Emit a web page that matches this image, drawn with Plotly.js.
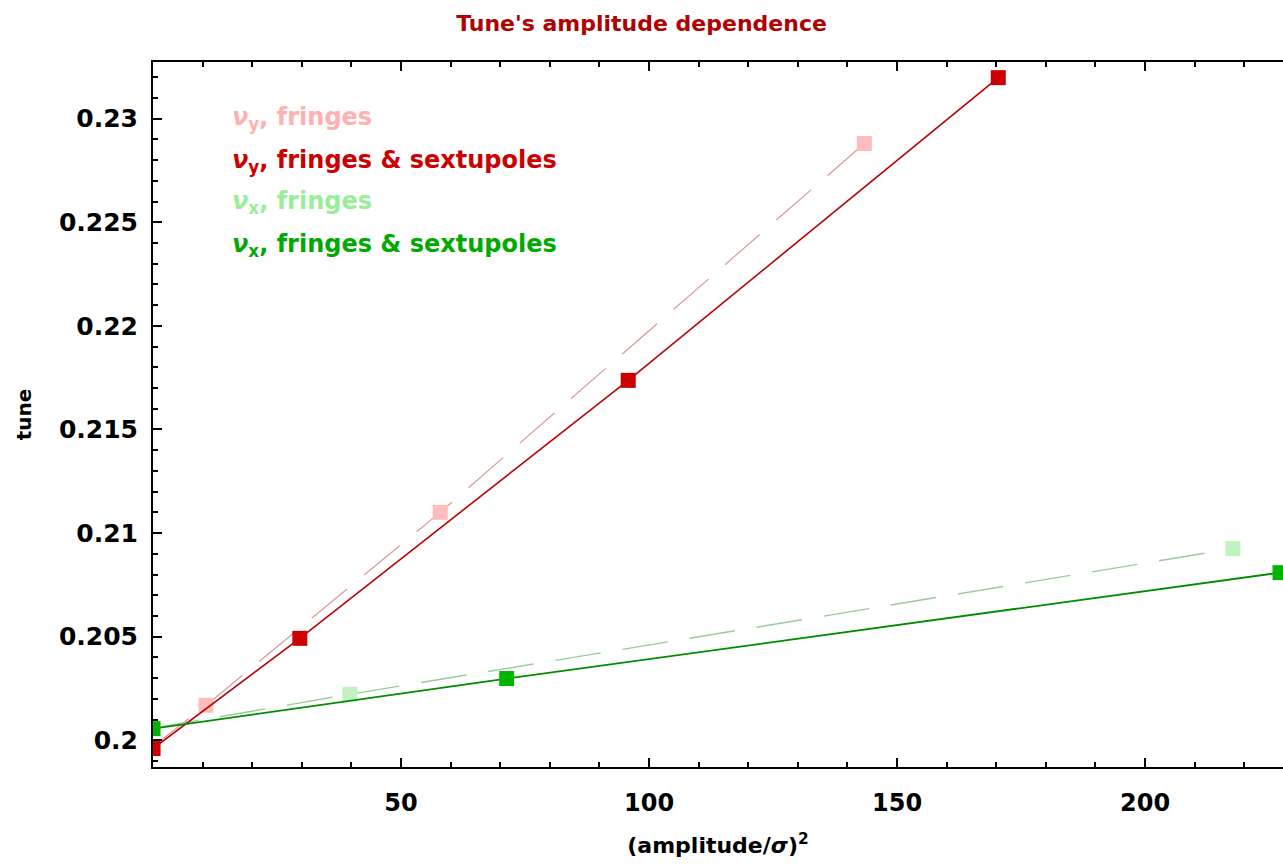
<!DOCTYPE html>
<html>
<head>
<meta charset="utf-8">
<script src="https://cdn.plot.ly/plotly-3.0.1.min.js"></script>
<style>html,body{margin:0;padding:0;background:#fff;}#chart{width:1283px;height:864px;}</style>
</head>
<body>
<div id="chart"></div>
<script>
// ν_y, fringes (light red, dashed)
const nyFringesX = [0, 10.7, 57.9, 143.4];
const nyFringesY = [0.1997, 0.20169, 0.2110, 0.2288];
// ν_y, fringes & sextupoles (red, solid)
const nySextX = [0, 29.6, 95.8, 170.4];
const nySextY = [0.1996, 0.20492, 0.21737, 0.23198];
// ν_x, fringes (light green, dashed)
const nxFringesX = [0, 39.7, 217.7];
const nxFringesY = [0.20058, 0.20222, 0.20925];
// ν_x, fringes & sextupoles (green, solid)
const nxSextX = [0, 71.3, 227.2];
const nxSextY = [0.20056, 0.20298, 0.20809];

const legendLabels = [
  '<i>ν</i><sub>y</sub>, fringes',
  '<i>ν</i><sub>y</sub>, fringes &amp; sextupoles',
  '<i>ν</i><sub>x</sub>, fringes',
  '<i>ν</i><sub>x</sub>, fringes &amp; sextupoles'
];
const xTickVals = [50, 100, 150, 200];
const xTickText = ['50', '100', '150', '200'];
const yTickVals = [0.2, 0.205, 0.21, 0.215, 0.22, 0.225, 0.23];
const yTickText = ['0.2', '0.205', '0.21', '0.215', '0.22', '0.225', '0.23'];

const FONT = 'DejaVu Sans, sans-serif';

function trace(x, y, lineColor, dash, markerColor, width) {
  return {
    x: x, y: y, type: 'scatter', mode: 'lines+markers',
    line: {color: lineColor, width: width, dash: dash},
    marker: {symbol: 'square', size: 15, color: markerColor},
    showlegend: false, cliponaxis: true
  };
}

const data = [
  trace(nyFringesX, nyFringesY, '#d99a9a', '46px,22px', '#ffbcbc', 1.2),
  trace(nxFringesX, nxFringesY, '#99cc99', '46px,22px', '#c2f2c2', 1.4),
  trace(nySextX, nySextY, '#b80000', 'solid', '#cc0000', 1.6),
  trace(nxSextX, nxSextY, '#008c00', 'solid', '#00b400', 1.8)
];

const legendColors = ['#ffb0b0', '#cc0000', '#99ee99', '#00aa00'];
const legendYpx = [118, 161, 203, 245];
const annotations = legendLabels.map((t, i) => ({
  text: t, xref: 'paper', yref: 'paper',
  x: (230 - 153) / 1130, y: (767 - legendYpx[i]) / 705,
  xanchor: 'left', yanchor: 'middle', showarrow: false,
  font: {family: FONT, size: 24, color: legendColors[i], weight: 'bold'}
}));

const layout = {
  width: 1283, height: 864,
  margin: {l: 153, r: 0, t: 62, b: 97},
  paper_bgcolor: '#ffffff', plot_bgcolor: '#ffffff',
  font: {family: FONT, color: '#000'},
  title: {
    text: "Tune's amplitude dependence",
    xref: 'container', yref: 'container', x: 0.5, y: 1 - 23 / 864,
    xanchor: 'center', yanchor: 'middle',
    font: {family: FONT, size: 22, color: '#b00000', weight: 'bold'}
  },
  xaxis: {
    range: [0, 227.8], tickmode: 'array', tickvals: xTickVals, ticktext: xTickText,
    ticks: 'inside', ticklen: 9, tickwidth: 2, tickcolor: '#000',
    showline: true, linecolor: '#000', linewidth: 2, mirror: 'allticks',
    showgrid: false, zeroline: false, ticklabelstandoff: 13,
    tickfont: {family: FONT, size: 24, color: '#000', weight: 'bold'},
    minor: {dtick: 10, tick0: 0, ticks: 'inside', ticklen: 5, tickwidth: 2, tickcolor: '#000', showgrid: false},
    title: {text: '(amplitude/<i>σ</i>)<sup>2</sup>', standoff: 22,
      font: {family: FONT, size: 22, color: '#000', weight: 'bold'}},
    automargin: false
  },
  yaxis: {
    range: [0.19871, 0.232735], tickmode: 'array', tickvals: yTickVals, ticktext: yTickText,
    ticks: 'inside', ticklen: 9, tickwidth: 2, tickcolor: '#000',
    showline: true, linecolor: '#000', linewidth: 2, mirror: false,
    showgrid: false, zeroline: false, ticklabelstandoff: 8,
    tickfont: {family: FONT, size: 25, color: '#000', weight: 'bold'},
    minor: {dtick: 0.001, tick0: 0.2, ticks: 'inside', ticklen: 5, tickwidth: 2, tickcolor: '#000', showgrid: false},
    title: {text: 'tune', standoff: 22,
      font: {family: FONT, size: 20, color: '#000', weight: 'bold'}},
    automargin: false
  },
  annotations: annotations
};

Plotly.newPlot('chart', data, layout, {displayModeBar: false, staticPlot: true});
</script>
</body>
</html>
